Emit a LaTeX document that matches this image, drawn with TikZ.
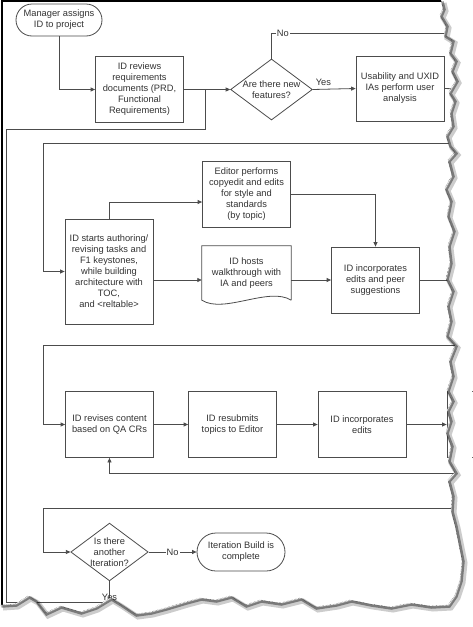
\documentclass[tikz,border=0pt]{standalone}
\usepackage{fontspec}
\setmainfont{Liberation Sans}
\usetikzlibrary{arrows.meta,shapes.geometric}

\begin{document}
\begin{tikzpicture}[x=1pt,y=-1pt]
\tikzstyle{every node}=[font=\fontsize{9.3}{11}\selectfont, text=black!80, align=center]
\tikzstyle{line}=[draw=black!70, line width=.8pt]
\tikzstyle{arr}=[line, -{Triangle[length=4.5pt,width=4pt]}]
\tikzstyle{box}=[line, rectangle, minimum width=88pt, minimum height=66pt, inner sep=1pt]
\tikzstyle{term}=[line, rectangle, rounded corners=16pt, minimum width=86pt, minimum height=32pt, inner sep=1pt]
\tikzstyle{dec}=[line, diamond, aspect=1.34, inner sep=0pt]
\tikzstyle{doc}=[rectangle, minimum width=89pt, minimum height=54pt, inner sep=1pt]
\tikzstyle{lbl}=[fill=white, inner sep=1pt]
\useasboundingbox (0,0) rectangle (472,627);
\fill[white] (0,0) rectangle (472,627);

% frame of the page
\draw[line width=1.8pt] (2,606) -- (2,1) -- (445,1);

% row 1
\node[term] (start) at (59,20) {Manager assigns\\ID to project};
\node[box] (review) at (139.5,89.5) {ID reviews\\requirements\\documents (PRD,\\Functional\\Requirements)};
\node[dec] (q1) at (271.5,89.5) {Are there new\\features?};
\node[box, minimum height=65pt] (usab) at (400,88.5) {Usability and UXID\\IAs perform user\\analysis};

% row 2
\node[box, minimum height=105pt] (author) at (109,271.5) {ID starts authoring/\\revising tasks and\\F1 keystones,\\while building\\architecture with\\TOC,\\and <reltable>};
\node[box] (editor) at (246.5,194) {Editor performs\\copyedit and edits\\for style and\\standards\\(by topic)};
\node[doc] (walk) at (246.5,273) {ID hosts\\walkthrough with\\IA and peers};
\node[box] (incorp) at (375.5,280) {ID incorporates\\edits and peer\\suggestions};

% row 3
\node[box] (revise) at (109.5,424.5) {ID revises content\\based on QA CRs};
\node[box] (resub) at (232.5,424.5) {ID resubmits\\topics to Editor};
\node[box] (incorp2) at (362,424.5) {ID incorporates\\edits};
\node[box] (nextbox) at (491,424.5) {};

% row 4
\node[dec] (q2) at (109.5,552) {Is there\\another\\Iteration?};
\node[term, minimum width=88pt, minimum height=38pt, rounded corners=19pt] (done) at (241,552) {Iteration Build is\\complete};

% document shape
\draw[line] (walk.south east) -- (walk.north east) -- (walk.north west) -- (walk.south west)
  .. controls +(22,14) and +(-22,-14) .. (walk.south east);

% turning points
\coordinate (j1) at (205,89.5);
\coordinate (c3) at (205,129);
\coordinate (c1) at (6,602);
\coordinate (noend) at (460,33);
\coordinate (ue) at (460,89);
\coordinate (t2) at (460,143);
\coordinate (k2) at (43,143);
\coordinate (ie) at (460,280);
\coordinate (t3) at (460,345);
\coordinate (k3) at (43,345);
\coordinate (b3) at (460,473);
\coordinate (t4) at (460,508);
\coordinate (k4) at (43,508);

% connectors
\draw[arr] (start.south) |- (review.west);
\draw[arr] (review.east) -- (q1.west);
\draw[line] (q1.north) |- node[lbl, pos=.53] {No} (noend);
\draw[arr] (q1.east) -- node[above, pos=.2, xshift=2pt] {Yes} (usab.west);
\draw[line] (usab.east) -- (ue);
\draw[arr] (t2) -- (k2) |- (author.west);
\draw[arr] (author.north) |- ([yshift=-8pt]editor.west);
\draw[arr] (editor.east) -| (incorp.north);
\draw[arr] (author.east |- incorp.west) -- (walk.west |- incorp.west);
\draw[arr] (walk.east |- incorp.west) -- (incorp.west);
\draw[line] (incorp.east) -- (ie);
\draw[arr] (t3) -- (k3) |- (revise.west);
\draw[arr] (revise) -- (resub);
\draw[arr] (resub) -- (incorp2);
\draw[arr] (incorp2) -- (nextbox);
\draw[arr] (b3) -| (revise.south);
\draw[arr] (t4) -- (k4) |- (q2.west);
\draw[arr] (q2.east) -- node[lbl] {No} (done.west);
\draw[line] (q2.south) |- (c1) |- (c3) -- (j1);
\node[lbl, fill=none] (yes2) at (109.5,597) {Yes};

% torn edge of the screenshot
\def\torn{(441,0) -- (443,8) -- (440,15) -- (446,25) -- (444,35) -- (452,40) -- (449,52) -- (455,60)
 -- (451,70) -- (456,80) -- (449,92) -- (454,100) -- (450,112) -- (452,125) -- (446,135) -- (449,145)
 -- (455,152) -- (448,160) -- (452,175) -- (445,188) -- (450,200) -- (447,215) -- (453,230) -- (448,245)
 -- (450,262) -- (446,278) -- (452,290) -- (447,305) -- (450,320) -- (446,335) -- (455,345) -- (449,360)
 -- (452,375) -- (447,390) -- (452,400) -- (447,410) -- (450,420) -- (446,432) -- (451,445) -- (448,460)
 -- (455,472) -- (448,480) -- (452,495) -- (451,510) -- (455,525) -- (458,540) -- (462,560) -- (460,580)
 -- (455,595) -- (448,605) -- (430,606) -- (410,603) -- (390,607) -- (370,604) -- (350,600) -- (335,604)
 -- (315,607) -- (300,598) -- (280,603) -- (260,600) -- (245,605) -- (230,596) -- (215,600) -- (200,598)
 -- (185,602) -- (165,608) -- (150,612) -- (135,614) -- (120,604) -- (110,598) -- (95,607) -- (80,612)
 -- (60,606) -- (45,613) -- (35,600) -- (28,596) -- (15,604) -- (0,605)}
\fill[white] \torn -- (0,627) -- (472,627) -- (472,0) -- cycle;
\draw[black, opacity=.2, line width=5pt, shift={(3,3)}] \torn;
\draw[black, opacity=.4, line width=2.5pt, shift={(1.5,1.5)}] \torn;
\draw[black!80, line width=.4pt, densely dotted] \torn;
\end{tikzpicture}
\end{document}
